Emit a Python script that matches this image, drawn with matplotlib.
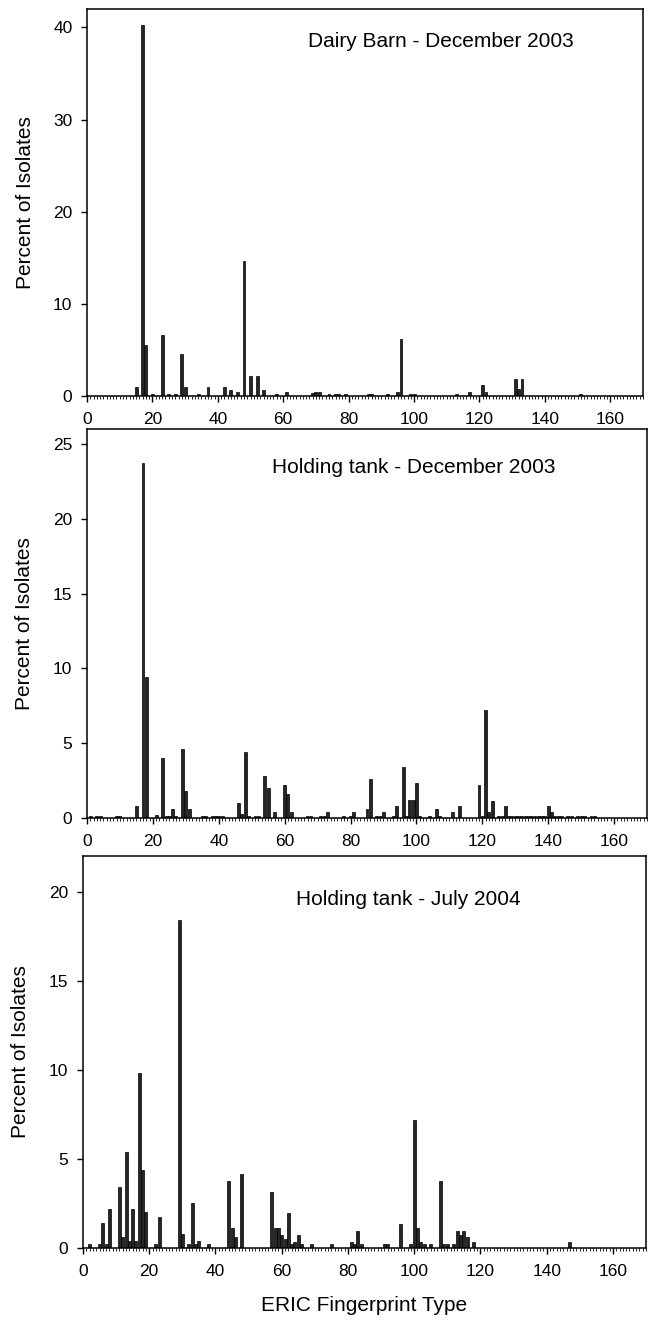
import matplotlib
matplotlib.use("Agg")
import matplotlib.pyplot as plt
from matplotlib.ticker import MultipleLocator

plt.rcParams["font.family"] = ["Liberation Sans", "DejaVu Sans"]

# Dairy Barn - December 2003
barn_types = [15, 17, 18, 20, 23, 25, 27, 29, 30, 34, 37, 42, 44, 46, 48, 50, 52, 54,
              58, 61, 69, 70, 71, 74, 76, 77, 79, 86, 87, 92, 95, 96, 99, 100, 113,
              117, 121, 122, 131, 132, 133, 151]
barn_pct = [1.0, 40.3, 5.5, 0.2, 6.6, 0.2, 0.2, 4.6, 1.0, 0.2, 1.0, 1.0, 0.6, 0.4, 14.6,
            2.2, 2.2, 0.6, 0.2, 0.4, 0.3, 0.4, 0.4, 0.2, 0.2, 0.2, 0.2, 0.2, 0.2, 0.2,
            0.4, 6.2, 0.2, 0.2, 0.2, 0.4, 1.2, 0.4, 1.8, 0.8, 1.8, 0.2]

# Holding tank - December 2003
dec_types = [1, 3, 4, 9, 10, 15, 17, 18, 21, 23, 24, 25, 26, 27, 29, 30, 31, 35, 36,
             38, 39, 40, 41, 46, 47, 48, 49, 51, 52, 54, 55, 57, 60, 61, 62, 67, 68,
             71, 72, 73, 78, 80, 81, 85, 86, 88, 89, 90, 93, 94, 96, 97, 98, 99, 100,
             101, 104, 106, 107, 111, 113, 119, 120, 121, 122, 123, 125, 126, 127,
             128, 129, 130, 131, 132, 133, 134, 135, 136, 137, 138, 139, 140, 141,
             142, 143, 144, 146, 147, 149, 150, 151, 153, 154]
dec_pct = [0.15, 0.15, 0.15, 0.15, 0.15, 0.8, 23.7, 9.4, 0.2, 4.0, 0.15, 0.15, 0.6,
           0.15, 4.6, 1.8, 0.6, 0.15, 0.15, 0.15, 0.15, 0.15, 0.15, 1.0, 0.3, 4.4,
           0.15, 0.15, 0.15, 2.8, 2.0, 0.4, 2.2, 1.6, 0.4, 0.15, 0.15, 0.15, 0.15,
           0.4, 0.15, 0.15, 0.4, 0.6, 2.6, 0.15, 0.15, 0.4, 0.15, 0.8, 3.4, 0.15, 1.2,
           1.2, 2.35, 0.15, 0.15, 0.6, 0.15, 0.4, 0.8, 2.2, 0.15, 7.2, 0.4, 1.15,
           0.15, 0.15, 0.8, 0.15, 0.15, 0.15, 0.15, 0.15, 0.15, 0.15, 0.15, 0.15,
           0.15, 0.15, 0.15, 0.8, 0.4, 0.15, 0.15, 0.15, 0.15, 0.15, 0.15, 0.15,
           0.15, 0.15, 0.15]

# Holding tank - July 2004
jul_types = [2, 5, 6, 7, 8, 11, 12, 13, 14, 15, 16, 17, 18, 19, 22, 23, 29, 30, 32,
             33, 34, 35, 38, 44, 45, 46, 48, 57, 58, 59, 60, 61, 62, 63, 64, 65, 66,
             69, 75, 81, 82, 83, 84, 91, 92, 96, 99, 100, 101, 102, 103, 105, 108,
             109, 110, 112, 113, 114, 115, 116, 118, 147]
jul_pct = [0.2, 0.2, 1.4, 0.2, 2.2, 3.4, 0.6, 5.4, 0.4, 2.2, 0.4, 9.8, 4.4, 2.0, 0.2,
           1.75, 18.4, 0.8, 0.2, 2.55, 0.2, 0.4, 0.2, 3.75, 1.15, 0.6, 4.15, 3.15,
           1.15, 1.15, 0.75, 0.5, 1.95, 0.2, 0.35, 0.75, 0.2, 0.2, 0.2, 0.35, 0.2,
           0.95, 0.2, 0.2, 0.2, 1.35, 0.2, 7.2, 1.15, 0.35, 0.2, 0.2, 3.75, 0.2, 0.2,
           0.2, 0.95, 0.75, 0.95, 0.6, 0.35, 0.35]

W, H = 653, 1326
fig = plt.figure(figsize=(W / 100, H / 100), dpi=100)


def add_panel(l, r, t, b):
    return fig.add_axes([l / W, 1 - b / H, (r - l) / W, (b - t) / H])


panels = [
    (add_panel(87, 643, 9, 396), barn_types, barn_pct, 42, 10,
     "Dairy Barn - December 2003", 0.397, 0.915),
    (add_panel(87, 647, 429, 818), dec_types, dec_pct, 26, 5,
     "Holding tank - December 2003", 0.33, 0.90),
    (add_panel(83, 646, 856, 1248), jul_types, jul_pct, 22, 5,
     "Holding tank - July 2004", 0.378, 0.89),
]

for ax, types, pct, ytop, ystep, title, tx, ty in panels:
    ax.bar(types, pct, width=0.9, color="#262626", edgecolor="black", linewidth=0.5)
    ax.set_xlim(0, 170)
    ax.set_ylim(0, ytop)
    ax.xaxis.set_major_locator(MultipleLocator(20))
    ax.xaxis.set_minor_locator(MultipleLocator(1))
    ax.yaxis.set_major_locator(MultipleLocator(ystep))
    ax.tick_params(axis="both", which="major", direction="out", length=4.5,
                   width=1, labelsize=12.5)
    ax.tick_params(axis="x", which="major", pad=7)
    ax.tick_params(axis="y", which="major", pad=6)
    ax.tick_params(axis="x", which="minor", direction="out", length=2, width=0.6)
    for s in ax.spines.values():
        s.set_linewidth(1.1)
    ax.set_ylabel("Percent of Isolates", fontsize=15)
    ax.yaxis.set_label_coords(-0.094, 0.5)
    ax.text(tx, ty, title, transform=ax.transAxes, fontsize=15, va="center")

panels[-1][0].set_xlabel("ERIC Fingerprint Type", fontsize=15, labelpad=12)

fig.savefig("out.png", dpi=100)
